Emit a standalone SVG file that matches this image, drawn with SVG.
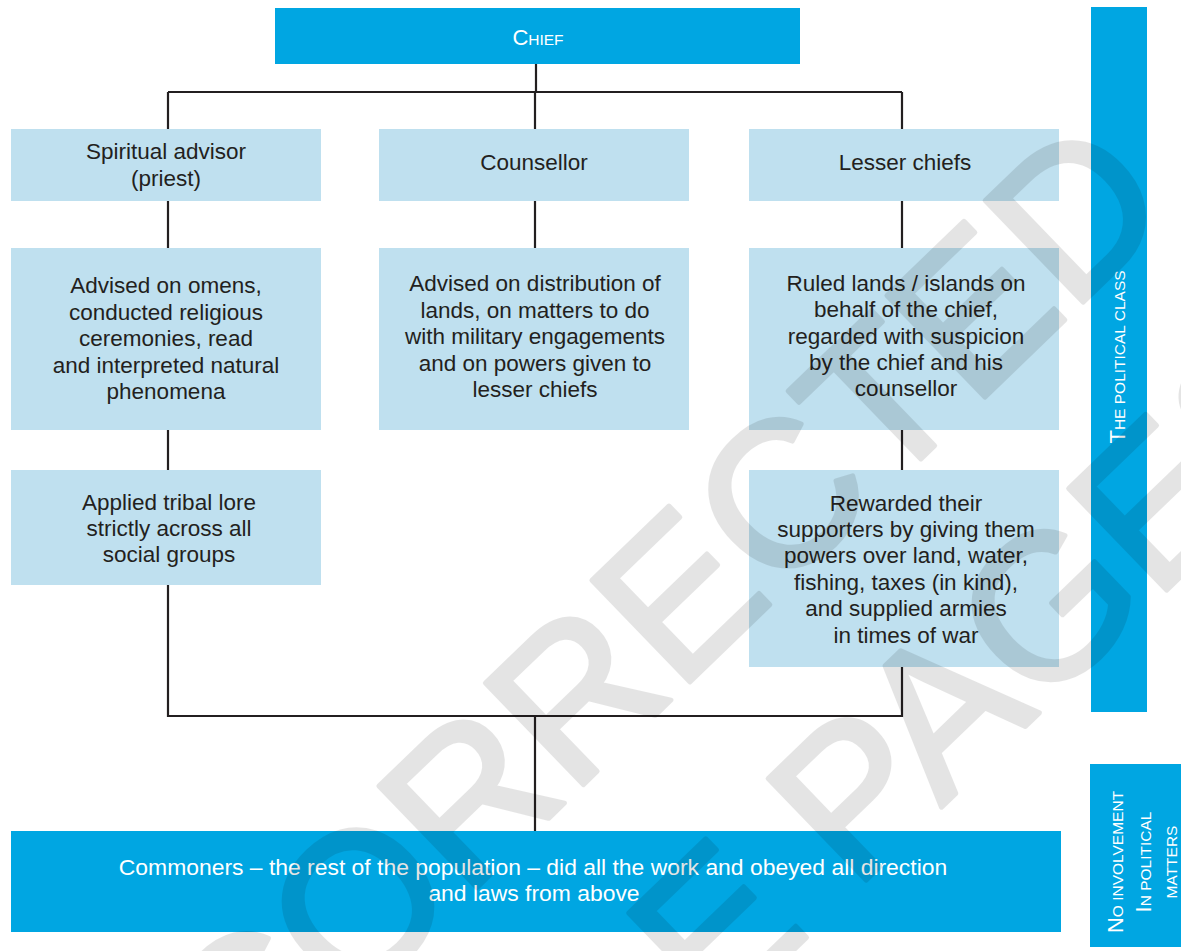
<svg xmlns="http://www.w3.org/2000/svg" width="1181" height="951" viewBox="0 0 1181 951">
<style>
.dark{fill:#00a6e2}
.light{fill:#bfe0ef}
.t{font-family:"Liberation Sans",Arial,Helvetica,sans-serif;font-size:22.5px;fill:#231f20;text-anchor:middle}
.w{font-family:"Liberation Sans",Arial,Helvetica,sans-serif;fill:#ffffff;text-anchor:middle}
.big{font-size:22px}
.sm{font-size:15.5px}
.con{fill:none;stroke:#231f20;stroke-width:2.2}
.wm{font-family:"Liberation Sans",Arial,Helvetica,sans-serif;font-size:205px;fill:#000;stroke:#000;stroke-width:5;stroke-linejoin:round}
</style>
<rect width="1181" height="951" fill="#ffffff"/>
<g id="connectors" class="con">
<path d="M536,64 V92 M168,92 H902 M168,92 V129 M535,92 V129 M902,92 V129 M168,200 V248 M535,200 V248 M902,200 V248 M168,429 V470 M902,429 V470 M168,585 V716 H902 V666 M535,716 V831"/>
</g>
<g id="chief">
<rect class="dark" x="275" y="8" width="525" height="56"/>
<text class="w" x="538" y="45"><tspan class="big">C</tspan><tspan class="sm">HIEF</tspan></text>
</g>
<g id="spiritual-advisor">
<rect class="light" x="11" y="129" width="310" height="72"/>
<text class="t" x="166" y="159">Spiritual advisor<tspan x="166" dy="27">(priest)</tspan></text>
</g>
<g id="counsellor">
<rect class="light" x="379" y="129" width="310" height="72"/>
<text class="t" x="534" y="170">Counsellor</text>
</g>
<g id="lesser-chiefs">
<rect class="light" x="749" y="129" width="310" height="72"/>
<text class="t" x="905" y="170">Lesser chiefs</text>
</g>
<g id="advisor-role">
<rect class="light" x="11" y="248" width="310" height="182"/>
<text class="t" x="166" y="293">Advised on omens,<tspan x="166" dy="26.5">conducted religious</tspan><tspan x="166" dy="26.5">ceremonies, read</tspan><tspan x="166" dy="26.5">and interpreted natural</tspan><tspan x="166" dy="26.5">phenomena</tspan></text>
</g>
<g id="counsellor-role">
<rect class="light" x="379" y="248" width="310" height="182"/>
<text class="t" x="535" y="291">Advised on distribution of<tspan x="535" dy="26.5">lands, on matters to do</tspan><tspan x="535" dy="26.5">with military engagements</tspan><tspan x="535" dy="26.5">and on powers given to</tspan><tspan x="535" dy="26.5">lesser chiefs</tspan></text>
</g>
<g id="lesser-chiefs-role">
<rect class="light" x="749" y="248" width="310" height="182"/>
<text class="t" x="906" y="291">Ruled lands / islands on<tspan x="906" dy="26.3">behalf of the chief,</tspan><tspan x="906" dy="26.3">regarded with suspicion</tspan><tspan x="906" dy="26.3">by the chief and his</tspan><tspan x="906" dy="26.3">counsellor</tspan></text>
</g>
<g id="tribal-lore">
<rect class="light" x="11" y="470" width="310" height="115"/>
<text class="t" x="169" y="510">Applied tribal lore<tspan x="169" dy="26">strictly across all</tspan><tspan x="169" dy="26">social groups</tspan></text>
</g>
<g id="rewarded">
<rect class="light" x="749" y="470" width="310" height="197"/>
<text class="t" x="906" y="510.5">Rewarded their<tspan x="906" dy="26.4">supporters by giving them</tspan><tspan x="906" dy="26.4">powers over land, water,</tspan><tspan x="906" dy="26.4">fishing, taxes (in kind),</tspan><tspan x="906" dy="26.4">and supplied armies</tspan><tspan x="906" dy="26.4">in times of war</tspan></text>
</g>
<g id="commoners">
<rect class="dark" x="11" y="831" width="1050" height="101"/>
<text class="w" x="533" y="875" style="font-size:22.9px">Commoners – the rest of the population – did all the work and obeyed all direction<tspan x="534" dy="25.5">and laws from above</tspan></text>
</g>
<g id="political-class">
<rect class="dark" x="1091" y="7" width="56" height="705"/>
<text class="w" transform="translate(1125,357) rotate(-90)" x="0" y="0"><tspan class="big">T</tspan><tspan class="sm">HE POLITICAL CLASS</tspan></text>
</g>
<g id="no-involvement">
<rect class="dark" x="1090" y="764" width="91" height="183"/>
<text class="w" transform="translate(1123,862) rotate(-90)" x="0" y="0"><tspan class="big">N</tspan><tspan class="sm">O INVOLVEMENT</tspan></text>
<text class="w" transform="translate(1151,862) rotate(-90)" x="0" y="0"><tspan class="big">I</tspan><tspan class="sm">N POLITICAL</tspan></text>
<text class="w" transform="translate(1177,862) rotate(-90)" x="0" y="0"><tspan class="sm">MATTERS</tspan></text>
</g>
<g id="watermark" opacity="0.1" transform="translate(30.6,1318.5) rotate(-44)">
<text class="wm" x="0" y="0">UNCORRECTED</text>
<text class="wm" x="0" y="265">SAMPLE PAGES</text>
</g>
</svg>
